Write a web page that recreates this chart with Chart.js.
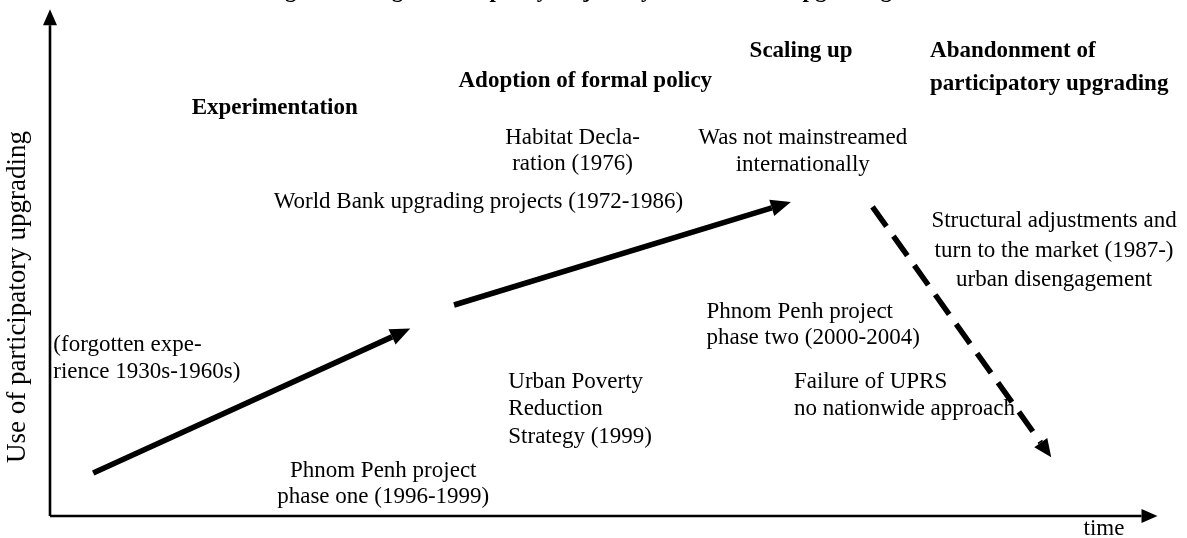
<!DOCTYPE html>
<html>
<head>
<meta charset="utf-8">
<script src="https://cdn.jsdelivr.net/npm/chart.js@4.4.1/dist/chart.umd.min.js"></script>
<style>
  body { margin: 0; background: #fff; }
  #wrap { width: 1187px; height: 538px; }
</style>
</head>
<body>
<div id="wrap"><canvas id="canvasGrafico" width="1187" height="538"></canvas></div>
<script>
// abstract coordinates: x = time (0..100), y = use of participatory upgrading (0..100)
const axisX = [{ x: 0, y: 0 }, { x: 98.6, y: 0 }];
const axisY = [{ x: 0, y: 0 }, { x: 0, y: 97.0 }];

// the three phases of the trajectory (line end = base of the arrow head)
const experimentation = [{ x: 3.9, y: 8.5 }, { x: 30.9, y: 35.4 }];
const adoption = [{ x: 36.5, y: 41.7 }, { x: 65.2, y: 60.9 }];
const abandonment = [{ x: 74.3, y: 61.1 }, { x: 89.5, y: 14.5 }];

const titleText = "Figure 1: Stages in the policy trajectory of settlement upgrading";
const axisTitleY = "Use of participatory upgrading";
const axisTitleX = "time";

const phaseHeadings = [
    ["Experimentation"],
    ["Adoption of formal policy"],
    ["Scaling up"],
    ["Abandonment of", "participatory upgrading"]
];

const events = [
    ["Habitat Decla-", "ration (1976)"],
    ["Was not mainstreamed", "internationally"],
    ["World Bank upgrading projects (1972-1986)"],
    ["Structural adjustments and", "turn to the market (1987-)", "urban disengagement"],
    ["(forgotten expe-", "rience 1930s-1960s)"],
    ["Urban Poverty", "Reduction", "Strategy (1999)"],
    ["Phnom Penh project", "phase one (1996-1999)"],
    ["Phnom Penh project", "phase two (2000-2004)"],
    ["Failure of UPRS", "no nationwide approach"]
];

// where each text block sits (in axis units) and how it is set
const headingPos = [
    { x: 12.8, y: 80.6, align: "left", lh: 30 },
    { x: 36.9, y: 86.0, align: "left", lh: 30 },
    { x: 63.2, y: 91.8, align: "left", lh: 30 },
    { x: 79.5, y: 91.8, align: "left", lh: 33 }
];
const eventPos = [
    { x: 47.2, y: 74.8, align: "center", lh: 26.5 },
    { x: 68.0, y: 74.8, align: "center", lh: 27 },
    { x: 38.7, y: 62.1, align: "center", lh: 27 },
    { x: 90.7, y: 58.3, align: "center", lh: 29.5 },
    { x: 0.3, y: 33.8, align: "left", lh: 27 },
    { x: 41.4, y: 26.5, align: "left", lh: 27.5 },
    { x: 30.1, y: 8.9, align: "center", lh: 26 },
    { x: 59.3, y: 40.4, align: "left", lh: 26 },
    { x: 67.2, y: 26.5, align: "left", lh: 27.5 }
];

const serif = "'Liberation Serif', 'Times New Roman', serif";

const arrowHeads = {
    id: "arrowHeads",
    afterDatasetsDraw(chart) {
        const ctx = chart.ctx;
        chart.data.datasets.forEach((ds, i) => {
            if (!ds.head) return;
            const pts = chart.getDatasetMeta(i).data;
            const a = pts[pts.length - 2], b = pts[pts.length - 1];
            const dx = b.x - a.x, dy = b.y - a.y;
            const len = Math.sqrt(dx * dx + dy * dy);
            const ux = dx / len, uy = dy / len;
            const L = ds.head[0], W = ds.head[1] / 2;
            ctx.save();
            ctx.fillStyle = "#000";
            ctx.beginPath();
            ctx.moveTo(b.x + ux * L, b.y + uy * L);
            ctx.lineTo(b.x - uy * W, b.y + ux * W);
            ctx.lineTo(b.x + uy * W, b.y - ux * W);
            ctx.closePath();
            ctx.fill();
            ctx.restore();
        });
    }
};

const textBlocks = {
    id: "textBlocks",
    afterDraw(chart) {
        const ctx = chart.ctx;
        const sx = chart.scales.x, sy = chart.scales.y;

        function block(lines, pos, weight) {
            const px = sx.getPixelForValue(pos.x);
            const py = sy.getPixelForValue(pos.y);
            ctx.font = weight + " 23px " + serif;
            ctx.textAlign = pos.align;
            ctx.textBaseline = "middle";
            lines.forEach((t, k) => ctx.fillText(t, px, py + k * pos.lh));
        }

        ctx.save();
        ctx.fillStyle = "#000";
        phaseHeadings.forEach((l, i) => block(l, headingPos[i], "bold"));
        events.forEach((l, i) => block(l, eventPos[i], "normal"));

        // title (cut off at the top of the picture)
        ctx.font = "bold 23px " + serif;
        ctx.textAlign = "right";
        ctx.textBaseline = "alphabetic";
        ctx.fillText(titleText, 892, -3);

        ctx.font = "normal 23px " + serif;
        ctx.textAlign = "center";
        ctx.textBaseline = "middle";
        ctx.fillText(axisTitleX, 1104, 529);

        ctx.font = "normal 27px " + serif;
        ctx.translate(18, 297);
        ctx.rotate(-Math.PI / 2);
        ctx.fillText(axisTitleY, 0, 0);
        ctx.restore();
    }
};

function line(data, width, head, dash) {
    return {
        data: data,
        showLine: true,
        borderColor: "#000",
        borderWidth: width,
        borderDash: dash || [],
        borderCapStyle: "butt",
        pointRadius: 0,
        clip: false,
        head: head
    };
}

new Chart(document.getElementById("canvasGrafico"), {
    type: "scatter",
    data: {
        datasets: [
            line(axisX, 2.6, [16, 14]),
            line(axisY, 2.6, [16, 14]),
            line(experimentation, 5.5, [20, 17]),
            line(adoption, 5.5, [20, 17]),
            line(abandonment, 5.5, [18, 16], [24, 12])
        ]
    },
    options: {
        responsive: false,
        animation: false,
        layout: { padding: { left: 50, right: 30, top: 10, bottom: 22 } },
        plugins: { legend: { display: false }, tooltip: { enabled: false } },
        scales: {
            x: { type: "linear", min: 0, max: 100, display: false },
            y: { type: "linear", min: 0, max: 100, display: false }
        }
    },
    plugins: [arrowHeads, textBlocks]
});
</script>
</body>
</html>
